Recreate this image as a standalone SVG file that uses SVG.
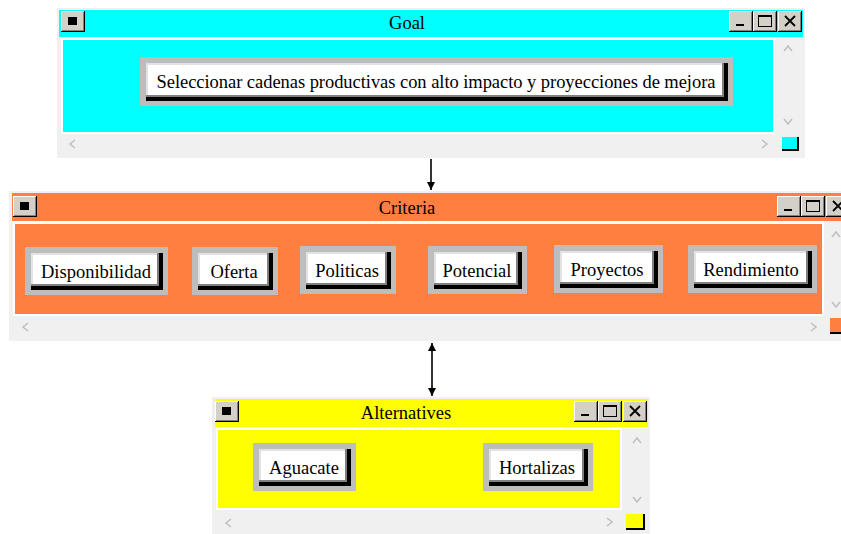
<svg xmlns="http://www.w3.org/2000/svg" xmlns:xlink="http://www.w3.org/1999/xlink" width="841" height="534" viewBox="0 0 841 534">
  <style>
    .frame { fill: #f0f0f0; }
    .sep { fill: #ffffff; }
    text { font-family: 'Liberation Serif', 'Times New Roman', serif; fill: #000; text-anchor: middle; }
    .title { font-size: 18.5px; }
    .label { font-size: 18.5px; }
    .chev { fill: none; stroke: #c0c0c0; stroke-width: 1.6; }
    .nf { fill: #bdbdbd; }
    .nb { fill: #000; }
    .nd { fill: #808080; }
    .nl { fill: #e2e2e2; }
    .nw { fill: #ffffff; }
    .edge { stroke: #000; stroke-width: 1.6; fill: none; }
  </style>
  <defs>
    <g id="bevel">
      <rect width="24" height="21" fill="#000"/>
      <rect width="23" height="20" fill="#fff"/>
      <rect x="1" y="1" width="22" height="19" fill="#808080"/>
      <rect x="1" y="1" width="21" height="18" fill="#d4d0c8"/>
    </g>
    <g id="tb-menu"><use xlink:href="#bevel"/><rect x="7" y="6" width="9" height="8" fill="#000"/></g>
    <g id="tb-min"><use xlink:href="#bevel"/><rect x="7" y="13" width="8" height="2" fill="#000"/></g>
    <g id="tb-max"><use xlink:href="#bevel"/><rect x="5.5" y="4.5" width="13" height="11" fill="none" stroke="#000"/><rect x="5" y="4" width="14" height="2" fill="#000"/></g>
    <g id="tb-close"><use xlink:href="#bevel"/><path d="M7 5 L17 15 M17 5 L7 15" stroke="#000" stroke-width="1.8"/></g>
    <marker id="ah" viewBox="0 0 10 10" refX="10" refY="5" markerWidth="8" markerHeight="8" orient="auto-start-reverse" markerUnits="userSpaceOnUse">
      <path d="M0 0 L10 5 L0 10 Z" fill="#000"/>
    </marker>
  </defs>

  <rect width="841" height="534" fill="#ffffff"/>

  <!-- connectors -->
  <g id="connectors">
    <line class="edge" x1="431" y1="159" x2="431" y2="190" marker-end="url(#ah)"/>
    <line class="edge" x1="432" y1="343" x2="432" y2="396" marker-start="url(#ah)" marker-end="url(#ah)"/>
  </g>

  <!-- Goal window -->
  <g id="goal">
    <rect class="frame" x="57" y="8" width="748" height="150"/>
    <rect x="59" y="10" width="744" height="27" fill="#00ffff"/>
    <rect class="sep" x="61" y="37" width="714" height="97"/>
    <rect x="63" y="40" width="710" height="92" fill="#00ffff"/>
    <use xlink:href="#tb-menu" x="61" y="11"/>
    <use xlink:href="#tb-min" x="729" y="11"/>
    <use xlink:href="#tb-max" x="753" y="11"/>
    <use xlink:href="#tb-close" x="778" y="11"/>
    <text class="title" x="407" y="29">Goal</text>
    <polyline class="chev" points="784,51 788,46 792,51"/>
    <polyline class="chev" points="784,119 788,124 792,119"/>
    <polyline class="chev" points="75,140 70,144 75,148"/>
    <polyline class="chev" points="762,140 767,144 762,148"/>
    <rect x="782" y="137" width="17" height="14" fill="#000"/>
    <rect x="782" y="137" width="15" height="12" fill="#00ffff"/>
    <g id="goal-node">
      <rect class="nf" x="140" y="57" width="593" height="49"/>
      <rect class="nb" x="146" y="63" width="582" height="38"/>
      <rect class="nd" x="146" y="63" width="578" height="34"/>
      <rect class="nl" x="146" y="63" width="576" height="32"/>
      <rect class="nw" x="148" y="65" width="574" height="30"/>
      <text class="label" x="436" y="88" textLength="559" lengthAdjust="spacing">Seleccionar cadenas productivas con alto impacto y proyecciones de mejora</text>
    </g>
  </g>

  <!-- Criteria window -->
  <g id="criteria">
    <rect class="frame" x="9" y="191" width="832" height="150"/>
    <rect x="12" y="193" width="829" height="28" fill="#ff7f40"/>
    <rect class="sep" x="13" y="221" width="811" height="95"/>
    <rect x="15" y="224" width="807" height="90" fill="#ff7f40"/>
    <use xlink:href="#tb-menu" x="13" y="196"/>
    <use xlink:href="#tb-min" x="777" y="196"/>
    <use xlink:href="#tb-max" x="801" y="196"/>
    <use xlink:href="#tb-close" x="826" y="196"/>
    <text class="title" x="407" y="214">Criteria</text>
    <polyline class="chev" points="832,237 836,232 840,237"/>
    <polyline class="chev" points="832,302 836,307 840,302"/>
    <polyline class="chev" points="28,323 23,327 28,331"/>
    <polyline class="chev" points="811,323 816,327 811,331"/>
    <rect x="830" y="318" width="11" height="16" fill="#000"/>
    <rect x="830" y="318" width="11" height="14" fill="#ff7f40"/>
    <g id="n-disponibilidad">
      <rect class="nf" x="25" y="247" width="143" height="48"/>
      <rect class="nb" x="31" y="253" width="132" height="37"/>
      <rect class="nd" x="31" y="253" width="128" height="33"/>
      <rect class="nl" x="31" y="253" width="126" height="31"/>
      <rect class="nw" x="33" y="255" width="124" height="29"/>
      <text class="label" x="96" y="278">Disponibilidad</text>
    </g>
    <g id="n-oferta">
      <rect class="nf" x="192" y="247" width="86" height="48"/>
      <rect class="nb" x="198" y="253" width="75" height="37"/>
      <rect class="nd" x="198" y="253" width="71" height="33"/>
      <rect class="nl" x="198" y="253" width="69" height="31"/>
      <rect class="nw" x="200" y="255" width="67" height="29"/>
      <text class="label" x="234" y="278">Oferta</text>
    </g>
    <g id="n-politicas">
      <rect class="nf" x="300" y="246" width="96" height="48"/>
      <rect class="nb" x="306" y="252" width="85" height="37"/>
      <rect class="nd" x="306" y="252" width="81" height="33"/>
      <rect class="nl" x="306" y="252" width="79" height="31"/>
      <rect class="nw" x="308" y="254" width="77" height="29"/>
      <text class="label" x="347" y="277">Politicas</text>
    </g>
    <g id="n-potencial">
      <rect class="nf" x="428" y="246" width="99" height="48"/>
      <rect class="nb" x="434" y="252" width="88" height="37"/>
      <rect class="nd" x="434" y="252" width="84" height="33"/>
      <rect class="nl" x="434" y="252" width="82" height="31"/>
      <rect class="nw" x="436" y="254" width="80" height="29"/>
      <text class="label" x="477" y="277">Potencial</text>
    </g>
    <g id="n-proyectos">
      <rect class="nf" x="554" y="245" width="109" height="48"/>
      <rect class="nb" x="560" y="251" width="98" height="37"/>
      <rect class="nd" x="560" y="251" width="94" height="33"/>
      <rect class="nl" x="560" y="251" width="92" height="31"/>
      <rect class="nw" x="562" y="253" width="90" height="29"/>
      <text class="label" x="607" y="276">Proyectos</text>
    </g>
    <g id="n-rendimiento">
      <rect class="nf" x="688" y="245" width="129" height="48"/>
      <rect class="nb" x="694" y="251" width="118" height="37"/>
      <rect class="nd" x="694" y="251" width="114" height="33"/>
      <rect class="nl" x="694" y="251" width="112" height="31"/>
      <rect class="nw" x="696" y="253" width="110" height="29"/>
      <text class="label" x="751" y="276">Rendimiento</text>
    </g>
  </g>

  <!-- Alternatives window -->
  <g id="alternatives">
    <rect class="frame" x="212" y="397" width="438" height="137"/>
    <rect x="215" y="399" width="433" height="28" fill="#ffff00"/>
    <rect class="sep" x="216" y="427" width="406" height="83"/>
    <rect x="218" y="430" width="402" height="78" fill="#ffff00"/>
    <use xlink:href="#tb-menu" x="215" y="401"/>
    <use xlink:href="#tb-min" x="574" y="401"/>
    <use xlink:href="#tb-max" x="598" y="401"/>
    <use xlink:href="#tb-close" x="623" y="401"/>
    <text class="title" x="406" y="419">Alternatives</text>
    <polyline class="chev" points="633,443 637,438 641,443"/>
    <polyline class="chev" points="633,497 637,502 641,497"/>
    <polyline class="chev" points="231,519 226,523 231,527"/>
    <polyline class="chev" points="607,518 612,522 607,526"/>
    <rect x="626" y="514" width="19" height="16" fill="#000"/>
    <rect x="626" y="514" width="17" height="14" fill="#ffff00"/>
    <g id="n-aguacate">
      <rect class="nf" x="253" y="443" width="103" height="48"/>
      <rect class="nb" x="259" y="449" width="92" height="37"/>
      <rect class="nd" x="259" y="449" width="88" height="33"/>
      <rect class="nl" x="259" y="449" width="86" height="31"/>
      <rect class="nw" x="261" y="451" width="84" height="29"/>
      <text class="label" x="304" y="474">Aguacate</text>
    </g>
    <g id="n-hortalizas">
      <rect class="nf" x="483" y="443" width="110" height="48"/>
      <rect class="nb" x="489" y="449" width="99" height="37"/>
      <rect class="nd" x="489" y="449" width="95" height="33"/>
      <rect class="nl" x="489" y="449" width="93" height="31"/>
      <rect class="nw" x="491" y="451" width="91" height="29"/>
      <text class="label" x="537" y="474">Hortalizas</text>
    </g>
  </g>
</svg>
